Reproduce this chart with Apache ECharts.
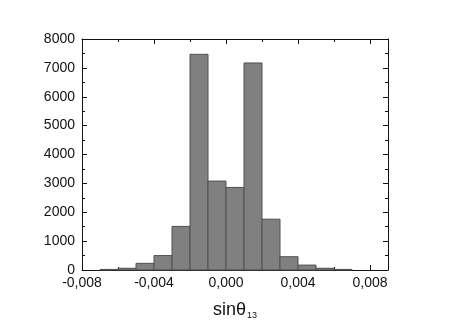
<!DOCTYPE html>
<html>
<head>
<meta charset="utf-8">
<script src="https://cdn.jsdelivr.net/npm/echarts@6/dist/echarts.min.js"></script>
<style>
  html, body { margin: 0; padding: 0; background: #fff; }
  #chart { width: 452px; height: 325px; }
</style>
</head>
<body>
<div id="chart"></div>
<script>
// histogram bins (sin theta13), width 0.001
const binLeft  = [-0.007, -0.006, -0.005, -0.004, -0.003, -0.002, -0.001, 0.000, 0.001, 0.002, 0.003, 0.004, 0.005, 0.006];
const binRight = [-0.006, -0.005, -0.004, -0.003, -0.002, -0.001, 0.000, 0.001, 0.002, 0.003, 0.004, 0.005, 0.006, 0.007];
const counts   = [20, 60, 230, 500, 1510, 7470, 3080, 2860, 7170, 1760, 460, 170, 60, 20];

const xTickLabels = ['-0,008', '-0,004', '0,000', '0,004', '0,008'];

let histData = [];
binLeft.forEach((x0, i) => {
  histData.push([x0, binRight[i], counts[i]]);
});

const myChart = echarts.init(document.getElementById('chart'));

const fontFam = 'Liberation Sans, Arial, sans-serif';
const axisCommon = {
  axisLine: { show: true, onZero: false, lineStyle: { color: '#111', width: 1 } },
  axisTick: { show: true, inside: true, length: 5, lineStyle: { color: '#111' } },
  minorTick: { show: true, splitNumber: 2, length: 3, lineStyle: { color: '#111' } },
  splitLine: { show: false },
  minorSplitLine: { show: false }
};

function fmtX(v) {
  let s = v.toFixed(3).replace('.', ',');
  if (s === '-0,000') s = '0,000';
  return xTickLabels.indexOf(s) >= 0 ? s : '';
}

let option = {
  animation: false,
  grid: { left: 82, right: 64, top: 39, bottom: 55 },
  xAxis: [
    Object.assign({}, axisCommon, {
      type: 'value',
      position: 'bottom',
      min: -0.008,
      max: 0.009,
      interval: 0.004,
      axisLabel: {
        color: '#111', fontSize: 14, fontFamily: fontFam, margin: 6,
        formatter: fmtX
      },
      name: '{a|sinθ}{b|13}',
      nameLocation: 'middle',
      nameGap: 31,
      nameTextStyle: {
        rich: {
          a: { fontSize: 18, color: '#111', fontFamily: fontFam },
          b: { fontSize: 9, color: '#111', fontFamily: fontFam, verticalAlign: 'bottom', padding: [10, 0, 0, 1] }
        }
      }
    }),
    Object.assign({}, axisCommon, {
      type: 'value',
      position: 'top',
      min: -0.008,
      max: 0.009,
      interval: 0.004,
      axisLabel: { show: false }
    })
  ],
  yAxis: [
    Object.assign({}, axisCommon, {
      type: 'value',
      position: 'left',
      min: 0,
      max: 8000,
      interval: 1000,
      axisLabel: {
        color: '#111', fontSize: 14, fontFamily: fontFam, margin: 7,
        formatter: function (v) { return String(v); }
      }
    }),
    Object.assign({}, axisCommon, {
      type: 'value',
      position: 'right',
      min: 0,
      max: 8000,
      interval: 1000,
      axisLabel: { show: false }
    })
  ],
  series: [
    {
      type: 'custom',
      xAxisIndex: 0,
      yAxisIndex: 0,
      data: histData,
      encode: { x: [0, 1], y: 2 },
      renderItem: function (params, api) {
        const p0 = api.coord([api.value(0), api.value(2)]);
        const p1 = api.coord([api.value(1), 0]);
        return {
          type: 'rect',
          shape: { x: p0[0], y: p0[1], width: p1[0] - p0[0], height: p1[1] - p0[1] },
          style: { fill: '#808080', stroke: '#505050', lineWidth: 1 }
        };
      }
    }
  ]
};

myChart.setOption(option);
</script>
</body>
</html>
